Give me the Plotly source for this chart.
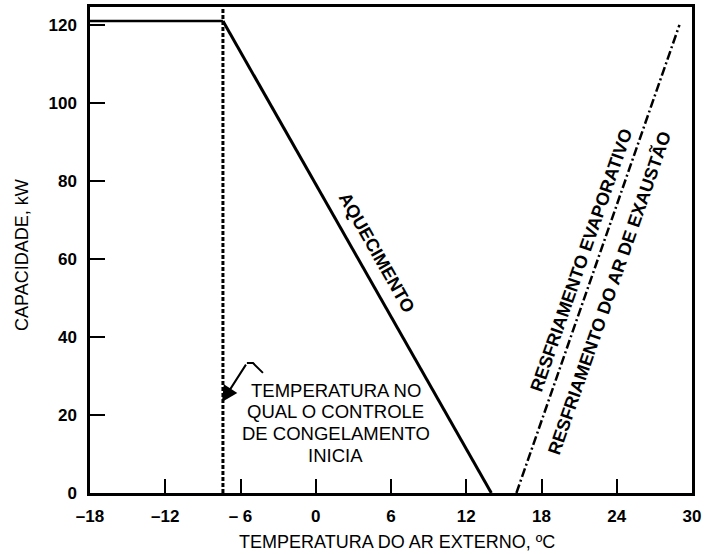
import math
import plotly.graph_objects as go

# ---- data ----
plateau_temp = [-18.0, -7.4]
plateau_cap = [121.0, 121.0]
heating_temp = [-7.4, 14.0]
heating_cap = [121.0, 0.0]
freeze_temp = [-7.4, -7.4]
freeze_cap = [0.0, 124.6]
cooling_temp = [16.0, 29.0]
cooling_cap = [0.0, 120.0]
pointer_temp = [-5.49, -5.0, -4.21]
pointer_cap = [33.3, 33.3, 30.8]
arrow_head = (-7.48, 23.3)
x_ticks = [-18, -12, -6, 0, 6, 12, 18, 24, 30]
x_tick_text = ["\u201318", "\u201312", "\u2013 6", "0", "6", "12", "18", "24", "30"]
y_ticks = [0, 20, 40, 60, 80, 100, 120]
note_lines = ["TEMPERATURA NO", "QUAL O CONTROLE", "DE CONGELAMENTO", "INICIA"]
x_range = [-18, 30]
y_range = [0, 124.6]

W, H = 707, 554
ML, MR, MT, MB = 90, 15, 7, 61
pw, ph = W - ML - MR, H - MT - MB
sx = pw / (x_range[1] - x_range[0])
sy = ph / (y_range[1] - y_range[0])

def screen_angle(xs, ys):
    dx = (xs[1] - xs[0]) * sx
    dy = (ys[1] - ys[0]) * sy
    return -math.degrees(math.atan2(dy, dx))

FONT = "Liberation Sans, Arial, Helvetica, sans-serif"

fig = go.Figure()
fig.add_trace(go.Scatter(x=plateau_temp, y=plateau_cap, mode="lines",
                         line=dict(color="black", width=2.5), hoverinfo="skip"))
fig.add_trace(go.Scatter(x=heating_temp, y=heating_cap, mode="lines",
                         line=dict(color="black", width=3), hoverinfo="skip"))
fig.add_trace(go.Scatter(x=freeze_temp, y=freeze_cap, mode="lines",
                         line=dict(color="black", width=3, dash="4px,2px"), hoverinfo="skip"))
fig.add_trace(go.Scatter(x=cooling_temp, y=cooling_cap, mode="lines",
                         line=dict(color="black", width=2.5, dash="9px,3px,2px,3px"), hoverinfo="skip"))
fig.add_trace(go.Scatter(x=pointer_temp, y=pointer_cap, mode="lines",
                         line=dict(color="black", width=2), hoverinfo="skip"))

heat_ang = screen_angle(heating_temp, heating_cap)
cool_ang = screen_angle(cooling_temp, cooling_cap)

annotations = [
    dict(x=4.87, y=61.5, text="<b>AQUECIMENTO</b>", textangle=heat_ang, showarrow=False,
         font=dict(family=FONT, size=18, color="black")),
    dict(x=21.2, y=59.7, text="<b>RESFRIAMENTO EVAPORATIVO</b>", textangle=cool_ang, showarrow=False,
         font=dict(family=FONT, size=18, color="black")),
    dict(x=23.43, y=51.3, text="<b>RESFRIAMENTO DO AR DE EXAUSTÃO</b>", textangle=cool_ang, showarrow=False,
         font=dict(family=FONT, size=18, color="black")),
    dict(x=arrow_head[0], y=arrow_head[1], ax=pointer_temp[0], ay=pointer_cap[0],
         axref="x", ayref="y", xref="x", yref="y", text="", showarrow=True,
         arrowhead=2, arrowsize=1.6, arrowwidth=2, arrowcolor="black"),
    # axis titles
    dict(x=(397 - ML) / pw, y=-(542 - (H - MB)) / ph, xref="paper", yref="paper",
         text="TEMPERATURA DO AR EXTERNO, ºC", showarrow=False,
         xanchor="center", yanchor="middle",
         font=dict(family=FONT, size=18, color="black")),
    dict(x=(22 - ML) / pw, y=((H - MB) - 255) / ph, xref="paper", yref="paper",
         text="CAPACIDADE, kW", showarrow=False, textangle=-90,
         xanchor="center", yanchor="middle",
         font=dict(family=FONT, size=18, color="black")),
]

# multi-line note, one annotation per line for tight line spacing
note_center_x = 1.6
note_top_px = 390
line_gap_px = 21.7
for i, line in enumerate(note_lines):
    ypx = note_top_px + i * line_gap_px
    annotations.append(dict(x=note_center_x, y=((H - MB) - ypx) / sy, text=line,
                            showarrow=False, xanchor="center", yanchor="middle",
                            font=dict(family=FONT, size=18.5, color="black")))

fig.update_layout(
    width=W, height=H,
    margin=dict(l=ML, r=MR, t=MT, b=MB, autoexpand=False),
    paper_bgcolor="white", plot_bgcolor="white",
    showlegend=False,
    annotations=annotations,
    xaxis=dict(range=x_range, tickvals=x_ticks, ticktext=x_tick_text,
               ticks="inside", ticklen=14, tickwidth=2, tickcolor="black",
               showline=True, linewidth=2.5, linecolor="black", mirror=True,
               showgrid=False, zeroline=False, ticklabelstandoff=6, automargin=False,
               tickfont=dict(family=FONT, size=17, color="black", weight="bold")),
    yaxis=dict(range=y_range, tickvals=y_ticks,
               ticks="inside", ticklen=15, tickwidth=2, tickcolor="black",
               showline=True, linewidth=2.5, linecolor="black", mirror=True,
               showgrid=False, zeroline=False, ticklabelstandoff=7, automargin=False,
               tickfont=dict(family=FONT, size=17, color="black", weight="bold")),
)

fig.write_html("out.html", config={"displayModeBar": False},
               post_script="document.body.style.margin='0';document.body.style.overflow='hidden';")
